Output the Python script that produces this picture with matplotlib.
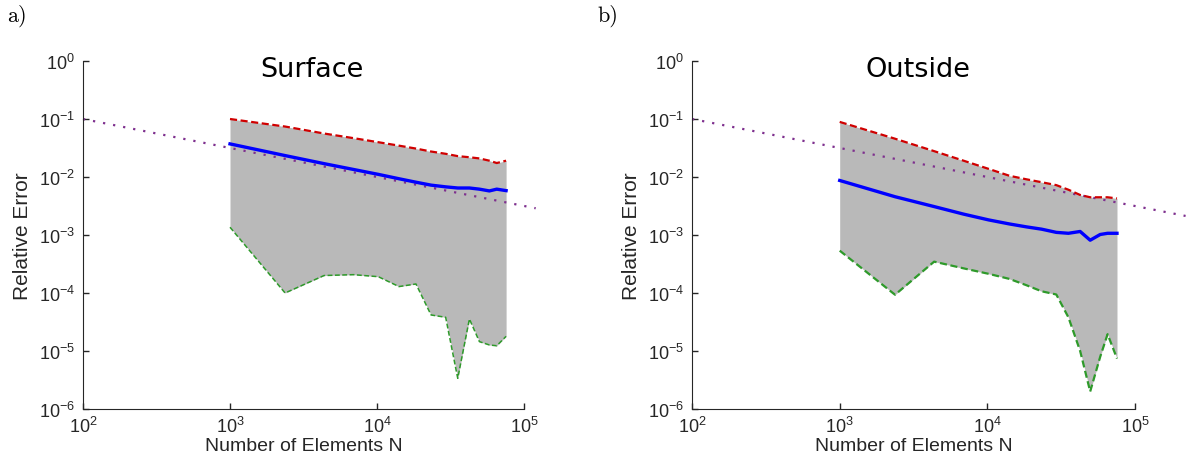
import matplotlib
matplotlib.use("Agg")
import matplotlib.pyplot as plt

# mesh sizes (number of elements)
n_elem = [1000, 2370, 4360, 6900, 10200, 14100, 18400, 23300, 29300,
          35400, 42500, 49700, 58100, 65200, 75500]

# Surface panel
surf_max = [0.100, 0.0741, 0.0562, 0.0468, 0.0398, 0.0347, 0.0309, 0.0275,
            0.0251, 0.0229, 0.0219, 0.0209, 0.0191, 0.0174, 0.0191]
surf_mean = [0.0372, 0.0234, 0.0170, 0.0135, 0.0111, 0.00933, 0.00813, 0.00724,
             0.00676, 0.00646, 0.00646, 0.00617, 0.00575, 0.00617, 0.00582]
surf_min = [1.36e-3, 1.0e-4, 2.0e-4, 2.07e-4, 1.91e-4, 1.29e-4, 1.43e-4, 4.18e-5,
            3.81e-5, 3.38e-6, 3.56e-5, 1.45e-5, 1.27e-5, 1.23e-5, 1.79e-5]

# Outside panel
out_max = [0.0891, 0.0457, 0.0279, 0.0191, 0.0138, 0.0105, 0.00912, 0.00813,
           0.00724, 0.00603, 0.00490, 0.00447, 0.00447, 0.00447, 0.00427]
out_mean = [8.71e-3, 4.57e-3, 3.09e-3, 2.29e-3, 1.82e-3, 1.55e-3, 1.38e-3, 1.26e-3,
            1.11e-3, 1.07e-3, 1.15e-3, 8.13e-4, 1.02e-3, 1.07e-3, 1.07e-3]
out_min = [5.37e-4, 9.33e-5, 3.47e-4, 2.66e-4, 2.14e-4, 1.75e-4, 1.36e-4, 1.07e-4,
           9.42e-5, 3.80e-5, 1.0e-5, 2.0e-6, 7.94e-6, 1.95e-5, 7.41e-6]

# reference slope N^-1/2
ref_x_a = [1e2, 1.2e5]
ref_y_a = [0.1, 2.89e-3]
ref_x_b = [1e2, 2.2e5]
ref_y_b = [0.1, 2.13e-3]

plt.rcParams['font.family'] = ['Liberation Sans', 'DejaVu Sans']
plt.rcParams['mathtext.fontset'] = 'custom'
plt.rcParams['mathtext.rm'] = 'Liberation Sans'
plt.rcParams['mathtext.it'] = 'Liberation Sans'

fig = plt.figure(figsize=(11.94, 4.64), dpi=100)


def panel(rect, title, title_x, lo, mid, hi, rx, ry, green_lw, letter, letter_x):
    ax = fig.add_axes(rect)
    ax.fill_between(n_elem, lo, hi, color='#b9b9b9', lw=0)
    ax.plot(rx, ry, color='#7e2f8e', lw=1.6, ls=(0, (1, 3.6)), clip_on=False)
    ax.plot(n_elem, hi, color='#d00000', lw=1.6, ls=(0, (3.2, 1.6)))
    ax.plot(n_elem, lo, color='#2e9a2a', lw=green_lw, ls=(0, (3.2, 1.6)))
    ax.plot(n_elem, mid, color='#0000ff', lw=2.4)
    ax.set_xscale('log')
    ax.set_yscale('log')
    ax.set_xlim(1e2, 1e5)
    ax.set_ylim(1e-6, 1)
    ax.set_xticks([1e2, 1e3, 1e4, 1e5])
    ax.set_yticks([1e0, 1e-1, 1e-2, 1e-3, 1e-4, 1e-5, 1e-6])
    ax.minorticks_off()
    ax.tick_params(direction='in', length=4, width=1, labelsize=13,
                   colors='#262626')
    ax.tick_params(axis='x', pad=5)
    ax.tick_params(axis='y', pad=6)
    for s in ['top', 'right']:
        ax.spines[s].set_visible(False)
    for s in ['left', 'bottom']:
        ax.spines[s].set_color('#262626')
    ax.set_xlabel('Number of Elements N', fontsize=14, color='#262626', labelpad=1)
    ax.set_ylabel('Relative Error', fontsize=15, color='#262626', labelpad=5)
    ax.text(title_x, 1.015, title, transform=ax.transAxes, ha='center', va='top',
            fontsize=19.5, family='DejaVu Sans')
    fig.text(letter_x, 0.965, letter, fontsize=16, family='cmr10',
             ha='left', va='center')
    return ax


panel([0.0695, 0.1164, 0.3694, 0.7500], 'Surface', 0.52, surf_min, surf_mean,
      surf_max, ref_x_a, ref_y_a, 1.1, 'a)', 0.006)
panel([0.5796, 0.1164, 0.3710, 0.7500], 'Outside', 0.51, out_min, out_mean,
      out_max, ref_x_b, ref_y_b, 1.6, 'b)', 0.500)

fig.savefig('out.png', dpi=100)
